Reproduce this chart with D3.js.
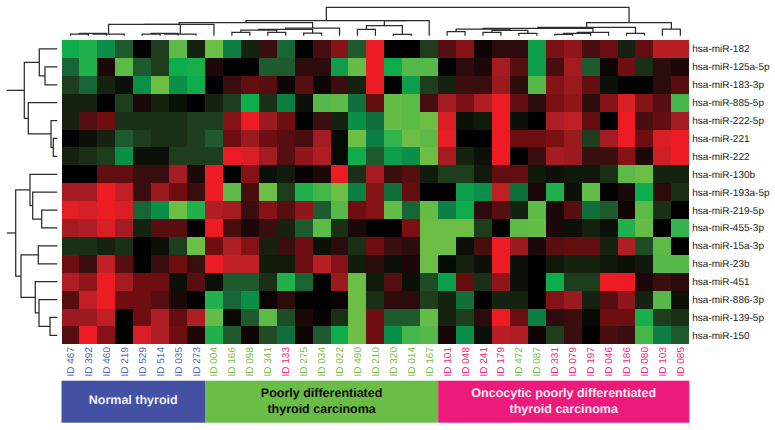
<!DOCTYPE html>
<html>
<head>
<meta charset="utf-8">
<script src="https://d3js.org/d3.v7.min.js"></script>
<style>
  body { margin: 0; background: #fff; }
  text { font-family: "Liberation Sans", Arial, sans-serif; text-rendering: geometricPrecision; }
  .branch { fill: none; stroke: #2c2c2c; stroke-width: 1.25px; }
  .sample { font-size: 10px; }
  .mirna { font-size: 10px; fill: #222; }
  .group_label { font-size: 12.5px; font-weight: bold; text-anchor: middle; }
</style>
</head>
<body>
<script>
var mirnas = ["hsa-miR-182", "hsa-miR-125a-5p", "hsa-miR-183-3p", "hsa-miR-885-5p", "hsa-miR-222-5p", "hsa-miR-221",
  "hsa-miR-222", "hsa-miR-130b", "hsa-miR-193a-5p", "hsa-miR-219-5p", "hsa-miR-455-3p", "hsa-miR-15a-3p",
  "hsa-miR-23b", "hsa-miR-451", "hsa-miR-886-3p", "hsa-miR-139-5p", "hsa-miR-150"];

var samples = ["ID 467", "ID 392", "ID 460", "ID 219", "ID 529", "ID 514", "ID 035", "ID 273",
  "ID 004", "ID 166", "ID 098", "ID 341", "ID 133", "ID 275", "ID 034", "ID 022", "ID 490", "ID 210", "ID 320", "ID 014", "ID 167",
  "ID 101", "ID 048", "ID 241", "ID 179", "ID 472", "ID 087", "ID 331", "ID 079", "ID 197", "ID 046", "ID 186", "ID 080", "ID 103", "ID 085"];

// which group colour each sample label has (0 normal, 1 poorly diff., 2 oncocytic)
var sampleTypes = [0, 0, 0, 0, 0, 0, 0, 0,
  1, 1, 1, 1, 2, 1, 1, 1, 1, 1, 1, 1, 1,
  2, 2, 2, 2, 1, 1, 2, 2, 2, 2, 2, 2, 2, 2];

var groupNames = [["Normal thyroid"], ["Poorly differentiated", "thyroid carcinoma"], ["Oncocytic poorly differentiated", "thyroid carcinoma"]];
var groupSpans = [["ID 467", "ID 273"], ["ID 004", "ID 167"], ["ID 101", "ID 085"]];

// expression, -10 (green) .. 10 (red), rows follow mirnas and columns follow samples
var expression = [
  [-6, -7, -5, -3, 0, -2, -9, -1, -10, -4.5, -1, 2, -3.5, 0, 2.5, 5, -3, 10, 0, 0, -2, 3, 5, 0.5, 1.5, 1.5, -5.5, 4.5, 5.5, 2.5, 4, -1, 3.5, 7.5, 7.5],
  [-3.5, -7, 1, -9, -3, -2, -6, -6.5, 1, 0, 0, -3, -3, 1.5, 1.5, -5.5, -9.5, 10, -6, -8.5, -8.5, 0, 1.5, 1, 6.5, 3, -5.5, 2.5, 6.5, -3, 0.5, 4, -1.5, 1.5, 1],
  [-2, -3.5, -1, -0.5, -5, -10, -5, -6, 0, 2, 3.5, 3, 0.5, 3, 0.5, 2, -1, 10, 0, -5.5, -2, -1, 2, 2, 6, 1.5, -8.5, 5, 6, 3.5, -0.5, 0, 0, 1.5, 3],
  [-1, -1, 0, -2, 1, -1, -0.5, 0, -1, -2, -6, -1.5, -4.5, -0.5, -8.5, -9, -4, 3.5, -9.5, -9, 2.5, 6.5, 4.5, 7, 10, 3.5, 1.5, 4.5, 5.5, 1.5, 5, 9, 5, 3, -8],
  [-1, 3, 4, -1.5, -1.5, -1.5, -1.5, -2, -2, 5, 10, 6, 4, 0, 2, -1, -5, -4, -9.5, -9, -10, 9, -0.5, -0.8, 10, -0.5, 0, 7, 8, 3.5, 0, 10, 2.5, 3.5, 6.5],
  [0, -0.5, -1, -3, -2, -1.5, -1.5, -2, -3, 4, 6, 4, 3, 2.5, 6.5, -0.3, -10, -4.5, -7.5, -10, -9, 9.5, 0, 0, 10, 4, 4, 4.5, 6, -2, 6.5, 10, 4, 9, 10],
  [-1, -1.5, -2, -5, -0.5, -0.5, -2, -2, -2, 10, 9, 6.5, 3, 5.5, 7, -0.3, -6, -3, -5.5, -5, -10, 6.5, -1, -0.5, 10, 0, 2, 6.5, 6, 2, 2, 5, 1, 8.5, 10],
  [0, 0, 3.5, 3.5, 2, 2, 6.5, 1, 10, 0, 5, -0.5, -0.8, 0.3, 1, 10, -1.5, 6.5, 2, 3, -0.8, -2, -2, -0.8, 3.5, 3.5, -0.7, -0.5, -0.7, -0.7, -1.5, -9, -10, -1, -1],
  [6.5, 6.5, 10, 8, 2, 6, 4, 2, 10, -9, 2.5, -10, -2, -7, -8, -10, -4.5, 5, -4, 3.5, 0, 0, -5.5, -5, 8, -4, 1, -7, -0.5, -9.5, 0, 1, -6, 1.5, -1.5],
  [9.5, 9, 10, 9, -3.5, -5, -10, -7, 7, 6.5, 2, 5, 3, 5.5, -3, -8.5, 4, 5, -9.5, -3.5, -9.5, -4.5, -6, 1.5, 3, -1, -9, 1, 3, -4, -3, 0.5, -9, -1.5, 0],
  [6.5, 7, 9, 6.5, -1, 3, 3, 0, 10, 2.5, 1, 2, -1, -3, -9, -1.5, 1, 0, 0, 4.5, -10, -10, -10, -2, 0, -9, -9.5, 1, -0.5, -1, -0.5, -7, -9.5, 0, -7.5],
  [-1.5, -1.5, -1, -1.5, 0, -0.5, -2, -10, 4, 7, 5, -1, 2, 4, -0.5, 1.5, -1.5, 4, 2, 1.5, -10, -10, -0.5, 2.5, 10, 6, 1, 3, 3.5, 3.5, -1, 7, -2.5, -9, 0],
  [4, 2, 8, 3, 0, 2, 4, 2, 10, 8, 8, -0.8, -0.8, 4, 7.5, 5, -0.8, 1.5, -0.5, 1, -10, -0.3, -1, -0.5, 10, -0.5, 0, -0.7, -1, -1, -0.7, -0.5, -0.7, -8.5, -8.5],
  [7, 5.5, 10, 6.5, 4, 4, -0.5, 3, -0.5, -3, -3, -1.5, -7, -3.5, 0, 6, -10, -0.8, 3, -0.5, -2.5, -5.5, 3.5, -1.5, 5.5, -0.5, 0, -6, -2, -2, 10, 10, 1, 2, 1.5],
  [3, 8, 10, 4, 4, 3, 1, 0, -7, -3.5, -5, 0.3, 1.5, 0, 0, 0.3, -10, -1.5, 1.5, 1.5, -2, -1, -4, 0, -1, -1, 0, 5, 6, -1, 3, 5.5, -1, -8.5, -0.5],
  [6, 6, 8, 0, 4, 7, 3.5, 7, -9.5, -0.3, -3, -9, -2.5, 1, 0.3, -1.5, -10, 4, -3, -3, -9.5, -1, -2, 1.5, 10, 4, -4.5, 1.5, 2, -0.3, 4, 4, -6.5, -2, -1.5],
  [3, 10, 5, 0, 9, 7, 4, 1, -7, -3, 0.5, -2.5, -4, 0.5, -3, -6, -10, 4, -5, -8, -8.5, 0.8, -5, -0.5, 7.5, 7, 0.5, -2, 2, 0, 2.5, 2, -8, -4.5, -3]
];

// dendrograms: [merge distance, left, right], a plain number is a leaf index
var colTree = [28.4,
  [15,
    [13,
      [11.4, [11.4, [1.7, [2.4, [1.7, 0, 1], 2], 3], [1.7, [2.4, [1.7, 4, 5], 6], 7]], 8],
      [7.7, [6.4, [5.7, [3.4, 9, 10], [3.4, 11, 12]], [2.7, 13, 14]], 15]
    ],
    [15, [10, [6.4, 16, 17], [1.4, 18, 19]], 20]
  ],
  [13,
    [8.4,
      [7.4,
        [6.7, [4, 21, 22], [5.4, [3.4, 23, 24], [2.4, 25, 26]]],
        [3.4, [2.4, [1.4, 27, 28], 29], 30]
      ],
      [2.4, 31, 32]
    ],
    [6.7, 33, 34]
  ]
];
var rowTrees = [
  [33, [18, 0, [12.3, 1, 2]], [29, 3, [6.3, 4, [4, 5, 6]]]],
  [41.6,
    [27.3, 7, [24.6, 8, [15.6, 9, 10]]],
    [36.3, [19, 11, 12], [22, 13, [18.3, 14, [7.3, 15, 16]]]]
  ]
];
var rowTreeRootEnd = 50.6;

var left = 61.5, right = 689.3, top_y = 40, bottom = 344.3;

var svg = d3.select("body").append("svg")
    .attr("width", 775)
    .attr("height", 430);

var x_scale = d3.scaleBand().domain(samples).range([left, right]);
var y_scale = d3.scaleBand().domain(mirnas).range([top_y, bottom]);

var color = d3.scaleLinear()
    .domain([-10, -8.5, -7, -6, -5, -4, -3, -2, -1, 0, 1, 2, 3, 4, 5, 6, 7, 8, 9, 10])
    .range(["#6dbe45", "#55b848", "#22b04c", "#0dac4c", "#0a8f48", "#106f3b", "#1e5a2d", "#1e3d1c", "#15220f", "#000000",
      "#1c0808", "#3a0e0e", "#560e10", "#6e0e10", "#851216", "#9a1a1f", "#ae1e24", "#c01f26", "#d81f26", "#ed1c24"]);

// heat map
svg.append("g").selectAll("g")
    .data(expression)
    .enter().append("g")
    .attr("transform", function(d, i) { return "translate(0," + y_scale(mirnas[i]) + ")"; })
    .selectAll("rect")
    .data(function(d) { return d; })
    .enter().append("rect")
    .attr("x", function(d, i) { return x_scale(samples[i]); })
    .attr("width", x_scale.bandwidth())
    .attr("height", y_scale.bandwidth())
    .attr("shape-rendering", "crispEdges")
    .attr("fill", function(d) { return color(d); });

// sample labels
var typeColors = ["#5a65ae", "#74bf4b", "#ee2a80"];
svg.append("g").selectAll("text")
    .data(samples)
    .enter().append("text")
    .attr("class", "sample")
    .attr("transform", function(d) { return "translate(" + (x_scale(d) + x_scale.bandwidth() / 2 + 3.5) + ",376.5) rotate(-90)"; })
    .attr("fill", function(d, i) { return typeColors[sampleTypes[i]]; })
    .text(function(d) { return d; });

// mirna labels
svg.append("g").selectAll("text")
    .data(mirnas)
    .enter().append("text")
    .attr("class", "mirna")
    .attr("x", right + 3)
    .attr("y", function(d) { return y_scale(d) + y_scale.bandwidth() / 2 + 3.5; })
    .text(function(d) { return d; });

// group bars
var barColors = ["#4350a3", "#6abd45", "#ed1a7b"];
var labelColors = ["#eeeef8", "#0a0a0a", "#fbeef4"];
var bars = svg.append("g").selectAll("g")
    .data(groupNames)
    .enter().append("g");

bars.append("rect")
    .attr("x", function(d, i) { return x_scale(groupSpans[i][0]); })
    .attr("y", 380.7)
    .attr("width", function(d, i) { return x_scale(groupSpans[i][1]) + x_scale.bandwidth() - x_scale(groupSpans[i][0]); })
    .attr("height", 42)
    .attr("fill", function(d, i) { return barColors[i]; });

bars.each(function(lines, i) {
  var cx = (x_scale(groupSpans[i][0]) + x_scale(groupSpans[i][1]) + x_scale.bandwidth()) / 2;
  var first = lines.length == 1 ? 403.5 : 397;
  d3.select(this).selectAll("text")
      .data(lines)
      .enter().append("text")
      .attr("class", "group_label")
      .attr("x", cx)
      .attr("y", function(d, j) { return first + j * 15.6; })
      .attr("fill", labelColors[i])
      .text(function(d) { return d; });
});

// walks a tree, returns the leaf-axis position of the node and draws its bracket
function draw_tree(g, node, leaf_pos, dist_pos, path) {
  if (typeof node == "number") return {at: leaf_pos(node), dist: dist_pos(0)};
  var a = draw_tree(g, node[1], leaf_pos, dist_pos, path);
  var b = draw_tree(g, node[2], leaf_pos, dist_pos, path);
  var d = dist_pos(node[0]);
  path(a, b, d);
  return {at: (a.at + b.at) / 2, dist: d};
}

var col_dist = d3.scaleLinear().domain([0, 30]).range([35.7, 5.7]);
var col_group = svg.append("g").attr("class", "branch");
draw_tree(col_group, colTree,
  function(i) { return x_scale(samples[i]) + x_scale.bandwidth() / 2; },
  col_dist,
  function(a, b, d) {
    col_group.append("path").attr("d", "M" + a.at + "," + a.dist + "V" + d + "H" + b.at + "V" + b.dist);
  });

var row_dist = d3.scaleLinear().domain([0, 50]).range([57.3, 7.3]);
var row_group = svg.append("g").attr("class", "branch");
rowTrees.forEach(function(tree) {
  var root = draw_tree(row_group, tree,
    function(i) { return y_scale(mirnas[i]) + y_scale.bandwidth() / 2; },
    row_dist,
    function(a, b, d) {
      row_group.append("path").attr("d", "M" + a.dist + "," + a.at + "H" + d + "V" + b.at + "H" + b.dist);
    });
  row_group.append("path").attr("d", "M" + root.dist + "," + root.at + "H" + row_dist(rowTreeRootEnd));
});
</script>
</body>
</html>
